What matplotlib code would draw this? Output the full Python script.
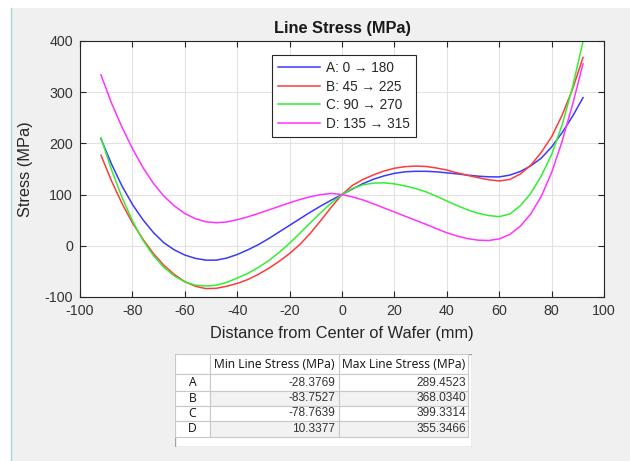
import matplotlib
matplotlib.use('Agg')
import matplotlib.pyplot as plt
from matplotlib.patches import Rectangle
from matplotlib.lines import Line2D

plt.rcParams['font.family'] = ['Liberation Sans', 'DejaVu Sans']

# ---------------- data ----------------
x_mm = [-92, -88, -84, -80, -76, -72, -68, -64, -60, -56, -52, -48, -44, -40,
        -36, -32, -28, -24, -20, -16, -12, -8, -4, 0, 4, 8, 12, 16, 20, 24,
        28, 32, 36, 40, 44, 48, 52, 56, 60, 64, 68, 72, 76, 80, 84, 88, 92]

stress_A = [209, 160, 117, 81, 51, 26, 6, -8, -18, -24.5, -28, -28, -24, -17,
            -8, 2, 14, 27, 40, 53, 66, 78, 89.5, 100, 111, 121.5, 130, 136.5, 141.5, 144.5,
            145.5, 145.5, 144.5, 142.5, 140.5, 138, 136, 134.7, 134.5, 138, 145, 156, 171, 193, 221, 253, 289.45]
stress_B = [177, 127, 83, 45, 13, -15, -38, -56, -70, -79, -83.6, -83, -79, -73.5,
            -66, -56, -44, -30.5, -15, 3, 25, 50, 76, 100, 118, 129.5, 138.5, 146, 151.5, 154.5,
            155.7, 155, 152, 148, 142.5, 137.5, 133, 129, 126.6, 129.5, 140, 157, 182, 213, 255, 306, 368.03]
stress_C = [211, 149, 95, 49, 11, -19, -42, -59, -70.5, -76.8, -78.7, -77, -71.5, -63,
            -54, -42.5, -29, -13, 5, 25, 45.5, 65.5, 84, 100, 112, 119, 122.5, 123, 121, 117,
            112, 105.5, 97, 87.5, 78.5, 70, 63.5, 59, 57, 62, 78, 102, 136, 178, 236, 310, 399.33]
stress_D = [334, 279, 232, 190, 153, 122, 97, 78, 63, 53, 47, 45, 46.5, 51,
            56.5, 63, 70, 77, 84, 90.5, 96, 100, 102.3, 100, 95.5, 89.5, 82, 74, 66, 58,
            50, 42, 33.5, 25.5, 19, 14, 11, 10.34, 13.5, 22, 38, 62, 96, 143, 204, 276, 355.35]

series_labels = ['A: 0 \u2192 180', 'B: 45 \u2192 225', 'C: 90 \u2192 270', 'D: 135 \u2192 315']
series_colors = ['#3a3aff', '#ff3a3a', '#33ee33', '#ff33ff']

x_ticks = [-100, -80, -60, -40, -20, 0, 20, 40, 60, 80, 100]
y_ticks = [-100, 0, 100, 200, 300, 400]

row_names = ['A', 'B', 'C', 'D']
col_names = ['Min Line Stress (MPa)', 'Max Line Stress (MPa)']
min_stress = [-28.3769, -83.7527, -78.7639, 10.3377]
max_stress = [289.4523, 368.0340, 399.3314, 355.3466]

# ---------------- figure ----------------
W, H = 630, 461
fig = plt.figure(figsize=(W / 100, H / 100), dpi=100)
fig.patch.set_facecolor('white')
fig.patches.append(Rectangle((11 / W, 0), 1 - 11 / W, 1 - 8 / H, transform=fig.transFigure,
                             facecolor='#f0f0f0', edgecolor='none', zorder=-10))
fig.lines.append(Line2D([10.5 / W, 10.5 / W], [0, 1 - 8 / H], transform=fig.transFigure,
                        color='#a8d4d8', lw=1.0, zorder=-9))

ax_l, ax_r, ax_t, ax_b = 80, 604, 41, 297
ax = fig.add_axes([ax_l / W, 1 - ax_b / H, (ax_r - ax_l) / W, (ax_b - ax_t) / H])
ax.set_facecolor('white')

all_series = [stress_A, stress_B, stress_C, stress_D]
for ys, lab, col in zip(all_series, series_labels, series_colors):
    ax.plot(x_mm, ys, color=col, lw=1.1, label=lab, solid_joinstyle='round')

ax.set_xlim(-100, 100)
ax.set_ylim(-100, 400)
ax.set_xticks(x_ticks)
ax.set_yticks(y_ticks)
ax.set_xticklabels([str(t) for t in x_ticks])
ax.set_yticklabels([str(t) for t in y_ticks])
ax.grid(True, color='#e2e2e2', lw=0.8)
ax.set_axisbelow(True)
ax.tick_params(direction='in', top=True, right=True, length=4, width=0.8,
               colors='#262626', labelcolor='#333333', labelsize=10.3, pad=5)
for s in ax.spines.values():
    s.set_color('#262626')
    s.set_linewidth(0.8)

ax.set_title('Line Stress (MPa)', fontsize=11.8, fontweight='bold', color='#1a1a1a', pad=6)
ax.set_xlabel('Distance from Center of Wafer (mm)', fontsize=11.8, color='#262626', labelpad=6)
ax.set_ylabel('Stress (MPa)', fontsize=11.8, color='#262626', labelpad=8)

leg = ax.legend(loc='upper left', bbox_to_anchor=(0.366, 0.945), borderaxespad=0,
                fontsize=9.8, frameon=True, fancybox=False, framealpha=1,
                edgecolor='#262626', handlelength=3.1, handletextpad=0.4,
                labelspacing=0.33, borderpad=0.45)
leg.get_frame().set_linewidth(0.8)
for t in leg.get_texts():
    t.set_color('#262626')

# ---------------- table ----------------
t_l, t_t, t_w, t_h = 175, 354, 297, 93
tax = fig.add_axes([t_l / W, 1 - (t_t + t_h) / H, t_w / W, t_h / H])
tax.set_xlim(0, t_w)
tax.set_ylim(t_h, 0)
tax.axis('off')

col_edges = [0, 35, 164, 293]
row_edges = [0, 20.3, 37, 51.7, 67, 82.7]
tax.add_patch(Rectangle((0, 0), t_w, t_h, facecolor='white', edgecolor='#a0a0a0', lw=1.0))
for r in range(len(row_edges) - 1):
    y0, y1 = row_edges[r], row_edges[r + 1]
    for c in range(len(col_edges) - 1):
        x0, x1 = col_edges[c], col_edges[c + 1]
        if r == 0 or c == 0:
            fc = 'white'
        else:
            fc = '#f2f2f2' if (r % 2 == 0) else 'white'
        tax.add_patch(Rectangle((x0, y0), x1 - x0, y1 - y0, facecolor=fc,
                                edgecolor='#c8c8c8', lw=0.8))

hdr_font = ['Open Sans', 'DejaVu Sans']
for c, name in enumerate(col_names):
    xc = (col_edges[c + 1] + col_edges[c + 2]) / 2
    tax.text(xc, row_edges[1] / 2 + 0.5, name, ha='center', va='center',
             fontsize=8.7, family=hdr_font, color='#111111')
for r, name in enumerate(row_names):
    yc = (row_edges[r + 1] + row_edges[r + 2]) / 2
    tax.text((col_edges[0] + col_edges[1]) / 2, yc, name, ha='center', va='center',
             fontsize=8.7, family=hdr_font, color='#111111')
    tax.text(col_edges[2] - 3.5, yc, '%.4f' % min_stress[r], ha='right', va='center',
             fontsize=8.6, color='#333333')
    tax.text(col_edges[3] - 2, yc, '%.4f' % max_stress[r], ha='right', va='center',
             fontsize=8.6, color='#333333')

fig.savefig('out.png', dpi=100, facecolor=fig.get_facecolor())
